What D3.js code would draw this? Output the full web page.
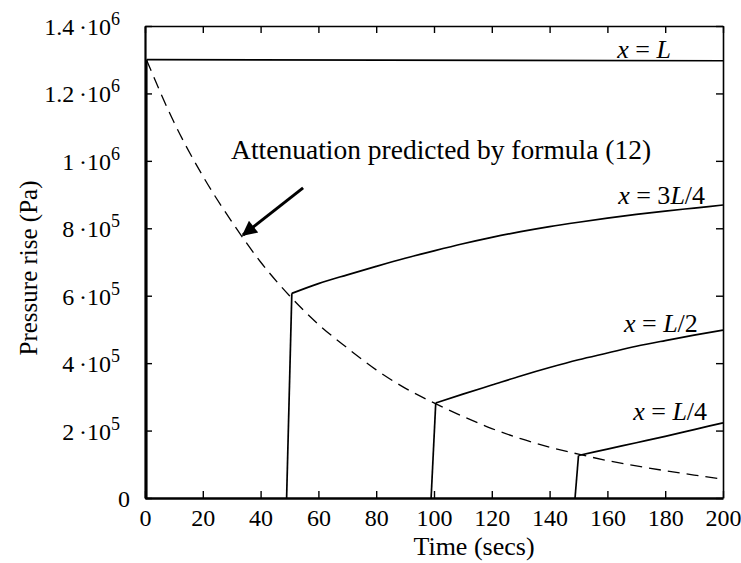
<!DOCTYPE html>
<html>
<head>
<meta charset="utf-8">
<script src="https://cdn.jsdelivr.net/npm/d3@7"></script>
<style>
  body { margin: 0; background: #fff; }
  text { font-family: "Liberation Serif", "Times New Roman", serif; fill: #000; }
</style>
</head>
<body>
<svg width="741" height="563"></svg>
<script>
// tick values + labels
const timeTicks = [0, 20, 40, 60, 80, 100, 120, 140, 160, 180, 200]
const pressureTicks = [0, 2e5, 4e5, 6e5, 8e5, 1e6, 1.2e6, 1.4e6]
const pressureTickBase = ["0", "2\u2009\u00b710", "4\u2009\u00b710", "6\u2009\u00b710", "8\u2009\u00b710", "1\u2009\u00b710", "1.2\u2009\u00b710", "1.4\u2009\u00b710"]
const pressureTickExp = ["", "5", "5", "5", "5", "6", "6", "6"]

// x = L (end of pipe)
const endTime = [0.6, 0.6, 200]
const endPressure = [0, 1.3e6, 1.297e6]

// x = 3L/4
const q3Time = [49, 50.8, 60, 70, 80, 90, 100, 110, 120, 130, 140, 150, 160, 170, 180, 190, 200]
const q3Pressure = [0, 6.07e5, 6.36e5, 6.62e5, 6.87e5, 7.11e5, 7.33e5, 7.54e5, 7.73e5, 7.9e5, 8.05e5, 8.18e5, 8.3e5, 8.41e5, 8.51e5, 8.6e5, 8.69e5]

// x = L/2
const halfTime = [99, 100.6, 110, 120, 130, 140, 150, 160, 170, 180, 190, 200]
const halfPressure = [0, 2.82e5, 3.08e5, 3.35e5, 3.62e5, 3.87e5, 4.1e5, 4.3e5, 4.5e5, 4.67e5, 4.83e5, 4.98e5]

// x = L/4
const q1Time = [148.8, 150, 160, 170, 180, 190, 200]
const q1Pressure = [0, 1.26e5, 1.45e5, 1.64e5, 1.83e5, 2.03e5, 2.23e5]

// attenuation predicted by formula (12), dashed
const attTime = [0.5, 10, 20, 30, 40, 50, 60, 70, 80, 90, 100, 110, 120, 130, 140, 150, 160, 170, 180, 190, 199]
const attPressure = [1.3e6, 1.115e6, 9.55e5, 8.2e5, 7.0e5, 6.0e5, 5.15e5, 4.45e5, 3.8e5, 3.26e5, 2.82e5, 2.42e5, 2.06e5, 1.76e5, 1.51e5, 1.3e5, 1.11e5, 9.5e4, 8.1e4, 6.8e4, 5.7e4]

// arrow in data units [time, pressure]: tail, head
const arrowTail = [54.7, 9.2e5]
const arrowHead = [33.9, 7.8e5]

const svg = d3.select('svg')
const width = +svg.attr('width')
const height = +svg.attr('height')

const margin = {top: 26, right: 18, bottom: 65, left: 145}
const innerW = width - margin.left - margin.right
const innerH = height - margin.top - margin.bottom

const x = d3.scaleLinear().domain([0, 200]).range([margin.left, margin.left + innerW])
const y = d3.scaleLinear().domain([0, 1.4e6]).range([margin.top + innerH, margin.top])

const tick = 7

// axes, ticks pointing inward
const bottomAxis = svg.append('g')
    .attr('transform', `translate(0, ${y(0)})`)
    .call(d3.axisBottom(x).tickValues(timeTicks).tickSizeInner(-tick).tickSizeOuter(0).tickPadding(11))
bottomAxis.select('.domain').attr('stroke-width', 2.6)
bottomAxis.selectAll('.tick line').attr('stroke-width', 1.4)
bottomAxis.selectAll('text')
    .attr('font-size', 24)
    .attr('font-family', '"Liberation Serif", serif')

const topAxis = svg.append('g')
    .attr('transform', `translate(0, ${y(1.4e6)})`)
    .call(d3.axisTop(x).tickValues(timeTicks).tickSizeInner(-tick).tickSizeOuter(0).tickFormat(''))
topAxis.select('.domain').attr('stroke-width', 1.6)
topAxis.selectAll('.tick line').attr('stroke-width', 1.4)

const leftAxis = svg.append('g')
    .attr('transform', `translate(${x(0)}, 0)`)
    .call(d3.axisLeft(y).tickValues(pressureTicks).tickSizeInner(-tick).tickSizeOuter(0).tickFormat(''))
leftAxis.select('.domain').attr('stroke-width', 2.2)
leftAxis.selectAll('.tick line').attr('stroke-width', 1.4)

const rightAxis = svg.append('g')
    .attr('transform', `translate(${x(200)}, 0)`)
    .call(d3.axisRight(y).tickValues(pressureTicks).tickSizeInner(-tick).tickSizeOuter(0).tickFormat(''))
rightAxis.select('.domain').attr('stroke-width', 1.6)
rightAxis.selectAll('.tick line').attr('stroke-width', 1.4)

// y tick labels with superscript powers
const yLabels = svg.append('g').attr('class', 'y-labels')
pressureTicks.forEach((p, i) => {
    const t = yLabels.append('text')
        .attr('text-anchor', 'end')
        .attr('x', i === 0 ? x(0) - 15 : x(0) - 25)
        .attr('y', y(p) + 9)
        .attr('font-size', 24)
    t.append('tspan').text(pressureTickBase[i])
    if (pressureTickExp[i]) {
        t.append('tspan')
            .attr('dy', -10)
            .attr('font-size', 18)
            .text(pressureTickExp[i])
    }
})

// axis titles
svg.append('text')
    .attr('x', 474)
    .attr('y', 555)
    .attr('text-anchor', 'middle')
    .attr('font-size', 26)
    .text('Time (secs)')

svg.append('text')
    .attr('transform', `translate(37, ${(y(0) + y(1.4e6)) / 2 + 6}) rotate(-90)`)
    .attr('text-anchor', 'middle')
    .attr('font-size', 25)
    .text('Pressure rise (Pa)')

// curves: the jump is a straight line, the recovery after it a smooth curve
const zipPts = (ts, ps) => ts.map((t, i) => [t, ps[i]])
const jumpLine = d3.line().x(d => x(d[0])).y(d => y(d[1]))
const riseLine = d3.line().x(d => x(d[0])).y(d => y(d[1])).curve(d3.curveMonotoneX)

const solid = [
    zipPts(endTime, endPressure),
    zipPts(q3Time, q3Pressure),
    zipPts(halfTime, halfPressure),
    zipPts(q1Time, q1Pressure)
]

const curveG = svg.append('g')
    .attr('fill', 'none')
    .attr('stroke', '#000')
    .attr('stroke-width', 1.7)

curveG.selectAll('path.jump')
    .data(solid)
    .enter()
    .append('path')
    .attr('class', 'jump')
    .attr('d', d => jumpLine(d.slice(0, 2)))

curveG.selectAll('path.rise')
    .data(solid)
    .enter()
    .append('path')
    .attr('class', 'rise')
    .attr('d', d => riseLine(d.slice(1)))

svg.append('path')
    .datum(zipPts(attTime, attPressure))
    .attr('d', riseLine)
    .attr('fill', 'none')
    .attr('stroke', '#000')
    .attr('stroke-width', 1.3)
    .attr('stroke-dasharray', '12,7')

// curve labels
const curveLabels = [
    {parts: [['x', true], [' = ', false], ['L', true]], t: 182, p: 1.306e6},
    {parts: [['x', true], [' = 3', false], ['L', true], ['/4', false]], t: 193.8, p: 8.72e5},
    {parts: [['x', true], [' = ', false], ['L', true], ['/2', false]], t: 191.3, p: 4.93e5},
    {parts: [['x', true], [' = ', false], ['L', true], ['/4', false]], t: 194.5, p: 2.31e5}
]
curveLabels.forEach(lab => {
    const t = svg.append('text')
        .attr('x', x(lab.t))
        .attr('y', y(lab.p))
        .attr('text-anchor', 'end')
        .attr('font-size', 26)
    lab.parts.forEach(([s, it]) => {
        t.append('tspan')
            .attr('font-style', it ? 'italic' : 'normal')
            .text(s)
    })
})

// annotation + arrow
svg.append('defs').append('marker')
    .attr('id', 'head')
    .attr('viewBox', '0 0 10 10')
    .attr('refX', 9)
    .attr('refY', 5)
    .attr('markerWidth', 6)
    .attr('markerHeight', 5)
    .attr('orient', 'auto')
    .attr('markerUnits', 'strokeWidth')
    .append('path')
    .attr('d', 'M0,0 L10,5 L0,10 Z')
    .attr('fill', '#000')

svg.append('line')
    .attr('x1', x(arrowTail[0]))
    .attr('y1', y(arrowTail[1]))
    .attr('x2', x(arrowHead[0]))
    .attr('y2', y(arrowHead[1]))
    .attr('stroke', '#000')
    .attr('stroke-width', 3)
    .attr('marker-end', 'url(#head)')

svg.append('text')
    .attr('x', x(29.8))
    .attr('y', y(1.006e6))
    .attr('font-size', 27.5)
    .text('Attenuation predicted by formula (12)')
</script>
</body>
</html>
